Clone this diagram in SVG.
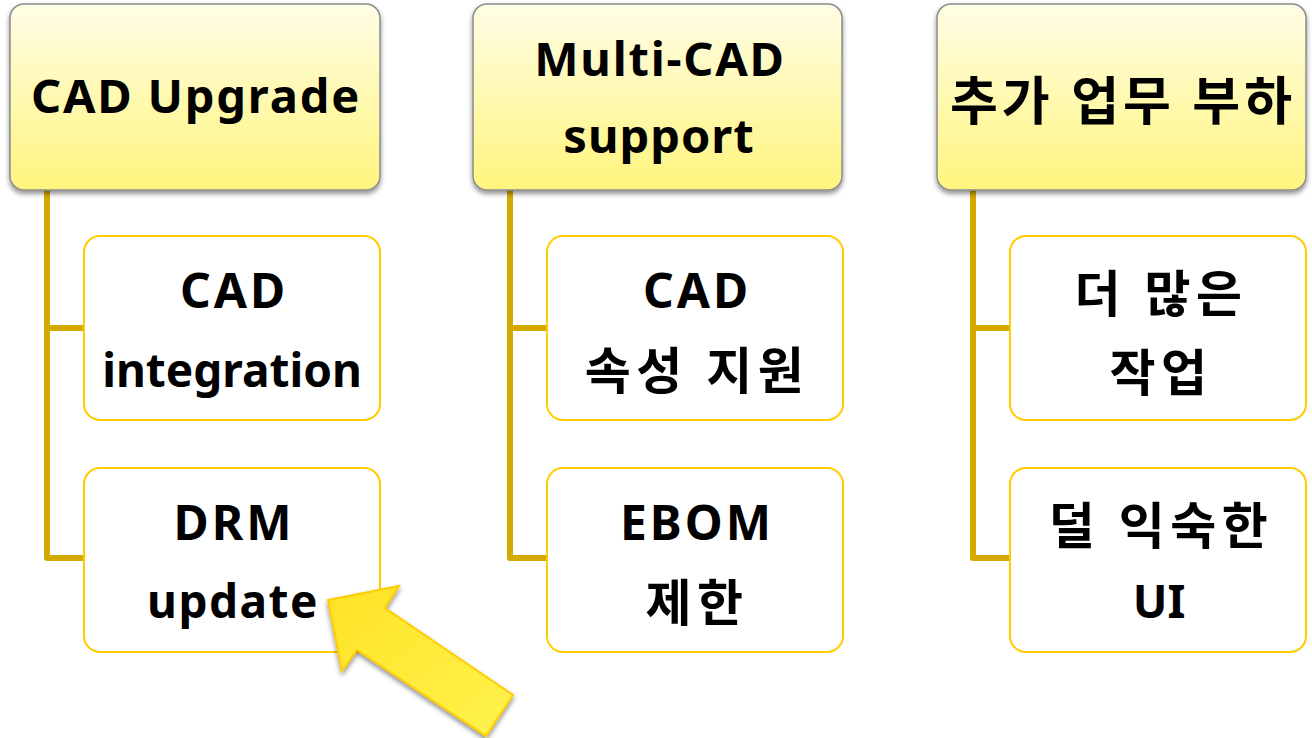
<svg xmlns="http://www.w3.org/2000/svg" width="1312" height="738" viewBox="0 0 1312 738">
<defs>
<linearGradient id="hg" x1="0" y1="0" x2="0" y2="1">
<stop offset="0" stop-color="#fffde6"/>
<stop offset="1" stop-color="#fff57d"/>
</linearGradient>
<linearGradient id="ag" x1="0" y1="0" x2="1" y2="1">
<stop offset="0" stop-color="#ffe225"/>
<stop offset="1" stop-color="#fff34d"/>
</linearGradient>
<filter id="sh" x="-10%" y="-10%" width="120%" height="125%">
<feGaussianBlur in="SourceAlpha" stdDeviation="2.5"/>
<feOffset dx="0" dy="3" result="b"/>
<feComponentTransfer><feFuncA type="linear" slope="0.45"/></feComponentTransfer>
<feMerge><feMergeNode/><feMergeNode in="SourceGraphic"/></feMerge>
</filter>
</defs>
<style>
.hdr{fill:url(#hg);stroke:#8c8c8c;stroke-width:1.5;filter:url(#sh)}
.child{fill:#ffffff;stroke:#ffcc00;stroke-width:2}
.conn{fill:none;stroke:#d4aa00;stroke-width:6;stroke-linejoin:round}
text{font-family:"Noto Sans","Noto Sans CJK KR",sans-serif;font-weight:bold;fill:#000000;text-anchor:middle}
.h{font-size:47px;letter-spacing:1.8px}
.hk{font-size:52px;letter-spacing:4px}
.c{font-size:46px}
.cc{font-size:48px;letter-spacing:3px}
.k{font-size:50px;letter-spacing:5.5px}
.arrow{fill:url(#ag);stroke:#ffcc00;stroke-width:2;stroke-linejoin:miter;filter:url(#sh)}
</style>
<g id="connectors">
<path class="conn" d="M47,190 V558 H84 M47,328 H84"/>
<path class="conn" d="M510,190 V558 H547 M510,328 H547"/>
<path class="conn" d="M973,190 V558 H1010 M973,328 H1010"/>
</g>
<g id="h1"><rect class="hdr" x="10" y="4" width="370" height="186" rx="14"/><text class="h" x="196" y="113">CAD Upgrade</text></g>
<g id="h2"><rect class="hdr" x="473" y="4" width="369" height="186" rx="14"/><text class="h" x="660" y="76">Multi-CAD</text><text class="h" x="659" y="153" style="letter-spacing:1px">support</text></g>
<g id="h3"><rect class="hdr" x="937" y="4" width="369" height="186" rx="14"/><text class="hk" x="1123" y="120">추가 업무 부하</text></g>
<g id="c11"><rect class="child" x="84" y="236" width="296" height="184" rx="16"/><text class="cc" x="234" y="308">CAD</text><text class="c" x="232" y="387">integration</text></g>
<g id="c12"><rect class="child" x="84" y="468" width="296" height="184" rx="16"/><text class="cc" x="234" y="540">DRM</text><text class="c" x="233" y="618" style="letter-spacing:1.5px">update</text></g>
<g id="c21"><rect class="child" x="547" y="236" width="296" height="184" rx="16"/><text class="cc" x="697" y="308">CAD</text><text class="k" x="697" y="389">속성 지원</text></g>
<g id="c22"><rect class="child" x="547" y="468" width="296" height="184" rx="16"/><text class="cc" x="697" y="540">EBOM</text><text class="k" x="697" y="621">제한</text></g>
<g id="c31"><rect class="child" x="1010" y="236" width="296" height="184" rx="16"/><text class="k" x="1161" y="312">더 많은</text><text class="k" x="1161" y="391">작업</text></g>
<g id="c32"><rect class="child" x="1010" y="468" width="296" height="184" rx="16"/><text class="k" x="1161" y="544">덜 익숙한</text><text class="c" x="1159" y="618">UI</text></g>
<g id="arrow"><polygon class="arrow" points="328,600 399,586 385,608 513,695 486,736 357,650 342,671"/></g>
</svg>
